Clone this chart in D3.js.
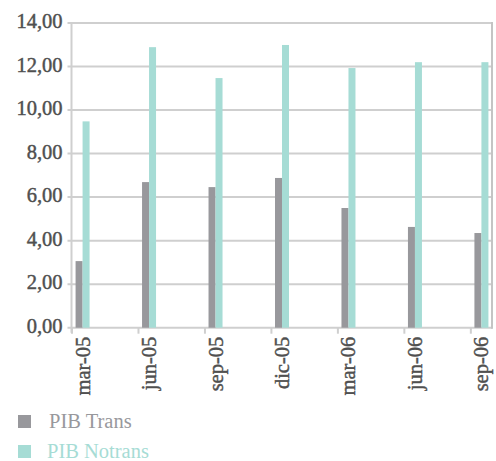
<!DOCTYPE html>
<html>
<head>
<meta charset="utf-8">
<script src="https://cdn.jsdelivr.net/npm/d3@7"></script>
<style>
  html, body { margin: 0; padding: 0; background: #fff; }
  svg { display: block; }
  svg text { font-family: "Liberation Serif", "DejaVu Serif", serif; }
</style>
</head>
<body>
<svg id="chart" width="496" height="461"></svg>
<script>
// Quarterly categories (Spanish month abbreviations)
const categories = ["mar-05", "jun-05", "sep-05", "dic-05", "mar-06", "jun-06", "sep-06"];
const pibTrans   = [3.06, 6.69, 6.46, 6.88, 5.50, 4.63, 4.35];
const pibNotrans = [9.48, 12.89, 11.47, 12.99, 11.93, 12.20, 12.20];
const seriesNames = ["PIB Trans", "PIB Notrans"];
const yTicks = [0, 2, 4, 6, 8, 10, 12, 14];

const colors = { trans: "#98989c", notrans: "#a6dcd5" };
const labelColor = "#505050";
const monthNames = ["ene","feb","mar","abr","may","jun","jul","ago","sep","oct","nov","dic"];

// Convert "mar-05" into a running month index so the axis behaves like a date axis
function monthIndex(label) {
  const [m, y] = label.split("-");
  return (2000 + +y) * 12 + monthNames.indexOf(m);
}
const months = categories.map(monthIndex);

const svg = d3.select("#chart");
const plot = { left: 71.5, right: 492.5, top: 23, bottom: 327.7 };

const x = d3.scaleLinear()
  .domain([d3.min(months), d3.max(months) + 1])
  .range([plot.left, plot.right]);

const y = d3.scaleLinear()
  .domain([0, 14])
  .range([plot.bottom, plot.top]);

// Horizontal gridlines with short outside ticks
svg.append("g")
  .selectAll("line")
  .data(yTicks)
  .join("line")
  .attr("x1", plot.left - 4)
  .attr("x2", plot.right)
  .attr("y1", d => y(d))
  .attr("y2", d => y(d))
  .attr("stroke", "#cfcfcf")
  .attr("stroke-width", 2);

// Left axis line and right border
svg.append("line")
  .attr("x1", plot.left).attr("x2", plot.left)
  .attr("y1", plot.top).attr("y2", plot.bottom + 5)
  .attr("stroke", "#cfcfcf").attr("stroke-width", 2);
svg.append("line")
  .attr("x1", plot.right - 0.5).attr("x2", plot.right - 0.5)
  .attr("y1", plot.top - 1).attr("y2", plot.bottom + 1)
  .attr("stroke", "#c4c4c4").attr("stroke-width", 2);

// Y axis labels
const yAxis = d3.axisLeft(y)
  .tickValues(yTicks)
  .tickSize(0)
  .tickPadding(9)
  .tickFormat(d => d.toFixed(2).replace(".", ","));
const gy = svg.append("g")
  .attr("transform", `translate(${plot.left},0)`)
  .call(yAxis);
gy.select(".domain").remove();
gy.selectAll("text")
  .attr("dy", "0.22em")
  .attr("fill", labelColor)
  .attr("stroke", labelColor)
  .attr("stroke-width", 0.45)
  .style("font-size", "20.5px")
  .style("font-family", "'Liberation Serif', serif");

// X axis: ticks at the start of each quarter month, labels centred on the month
const xAxis = d3.axisBottom(x)
  .tickValues(months)
  .tickSize(6)
  .tickFormat("");
const gx = svg.append("g")
  .attr("transform", `translate(0,${plot.bottom})`)
  .call(xAxis);
gx.select(".domain").remove();
gx.selectAll(".tick line").attr("stroke", "#cfcfcf").attr("stroke-width", 2);

svg.append("g")
  .selectAll("text")
  .data(categories)
  .join("text")
  .attr("transform", (d, i) => `translate(${x(months[i] + 0.5) + 7},${plot.bottom + 9}) rotate(-90)`)
  .attr("text-anchor", "end")
  .attr("fill", labelColor)
  .attr("stroke", labelColor)
  .attr("stroke-width", 0.45)
  .style("font-size", "20.5px")
  .style("font-family", "'Liberation Serif', serif")
  .text(d => d);

// Bars: two series side by side inside each month slot
const barW = 7;
const bars = svg.append("g");
bars.selectAll("rect.trans")
  .data(pibTrans)
  .join("rect")
  .attr("class", "trans")
  .attr("x", (d, i) => x(months[i] + 0.5) - barW)
  .attr("width", barW)
  .attr("y", d => y(d))
  .attr("height", d => y(0) - y(d))
  .attr("fill", colors.trans);
bars.selectAll("rect.notrans")
  .data(pibNotrans)
  .join("rect")
  .attr("class", "notrans")
  .attr("x", (d, i) => x(months[i] + 0.5))
  .attr("width", barW)
  .attr("y", d => y(d))
  .attr("height", d => y(0) - y(d))
  .attr("fill", colors.notrans);

// Legend
const legendColors = [colors.trans, colors.notrans];
const legend = svg.append("g")
  .selectAll("g")
  .data(seriesNames)
  .join("g")
  .attr("transform", (d, i) => `translate(18,${415 + i * 30})`);
legend.append("rect")
  .attr("width", 13).attr("height", 13)
  .attr("fill", (d, i) => legendColors[i]);
legend.append("text")
  .attr("x", (d, i) => i === 0 ? 31 : 29)
  .attr("y", 13)
  .attr("fill", (d, i) => legendColors[i])
  .style("font-size", "20.5px")
  .style("font-family", "'Liberation Serif', serif")
  .text(d => d);
</script>
</body>
</html>
